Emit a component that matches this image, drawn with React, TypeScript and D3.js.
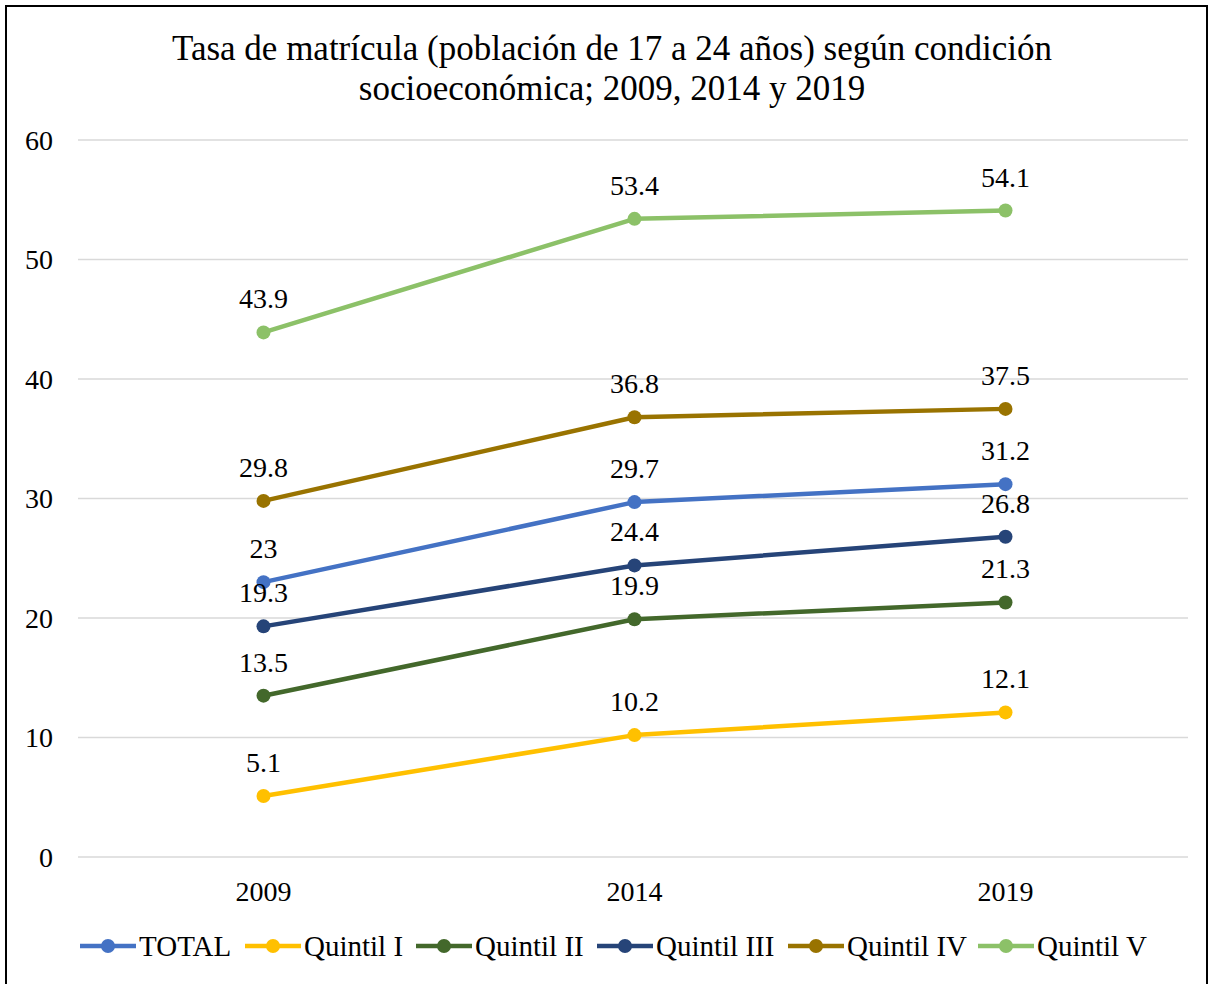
import React from "react";
import * as d3 from "d3";

const years = ["2009", "2014", "2019"];
const seriesNames = ["TOTAL", "Quintil I", "Quintil II", "Quintil III", "Quintil IV", "Quintil V"];
const totalValues = [23, 29.7, 31.2];
const q1Values = [5.1, 10.2, 12.1];
const q2Values = [13.5, 19.9, 21.3];
const q3Values = [19.3, 24.4, 26.8];
const q4Values = [29.8, 36.8, 37.5];
const q5Values = [43.9, 53.4, 54.1];
const yTicks = [0, 10, 20, 30, 40, 50, 60];
const colors = ["#4472C4", "#FFC000", "#43682B", "#264478", "#997300", "#8CC168"];
const legendX = [80, 245, 416, 597, 788, 978];

const allValues = [totalValues, q1Values, q2Values, q3Values, q4Values, q5Values];

export default function App() {
  const W = 1209, H = 984;
  const x = d3.scaleBand<string>().domain(years).range([78, 1191]);
  const y = d3.scaleLinear().domain([0, 60]).range([857, 140]);
  const line = d3.line<number>()
    .x((_, i) => (x(years[i]) as number) + x.bandwidth() / 2)
    .y((d) => y(d));
  const font = "'Liberation Serif', 'Times New Roman', serif";
  return (
    <svg width={W} height={H} style={{ position: "absolute", left: 0, top: 0 }} fontFamily={font}>
      <rect x={0} y={0} width={W} height={H} fill="#fff" />
      <rect x={6} y={6} width={W - 8} height={H + 10} fill="none" stroke="#000" strokeWidth={2} />
      <text x={612} y={60} textAnchor="middle" fontSize={35}>Tasa de matrícula (población de 17 a 24 años) según condición</text>
      <text x={612} y={100} textAnchor="middle" fontSize={35}>socioeconómica; 2009, 2014 y 2019</text>
      {yTicks.map((t) => (
        <g key={t}>
          <line x1={78} x2={1188} y1={y(t)} y2={y(t)} stroke="#D9D9D9" strokeWidth={1.5} />
          <text x={53} y={y(t) + 9.5} textAnchor="end" fontSize={28}>{t}</text>
        </g>
      ))}
      {years.map((yr) => (
        <text key={yr} x={(x(yr) as number) + x.bandwidth() / 2} y={901} textAnchor="middle" fontSize={28}>{yr}</text>
      ))}
      {allValues.map((vals, si) => (
        <g key={si}>
          <path d={line(vals) || ""} fill="none" stroke={colors[si]} strokeWidth={4.5} strokeLinejoin="round" />
          {vals.map((v, i) => (
            <circle key={i} cx={(x(years[i]) as number) + x.bandwidth() / 2} cy={y(v)} r={7} fill={colors[si]} />
          ))}
        </g>
      ))}
      {allValues.map((vals, si) =>
        vals.map((v, i) => (
          <text key={`${si}-${i}`} x={(x(years[i]) as number) + x.bandwidth() / 2} y={y(v) - 24} textAnchor="middle" fontSize={28}>{v}</text>
        ))
      )}
      {seriesNames.map((n, i) => (
        <g key={n}>
          <line x1={legendX[i]} x2={legendX[i] + 56} y1={946} y2={946} stroke={colors[i]} strokeWidth={4.5} />
          <circle cx={legendX[i] + 28} cy={946} r={7} fill={colors[i]} />
          <text x={legendX[i] + 59} y={956} fontSize={29}>{n}</text>
        </g>
      ))}
    </svg>
  );
}
